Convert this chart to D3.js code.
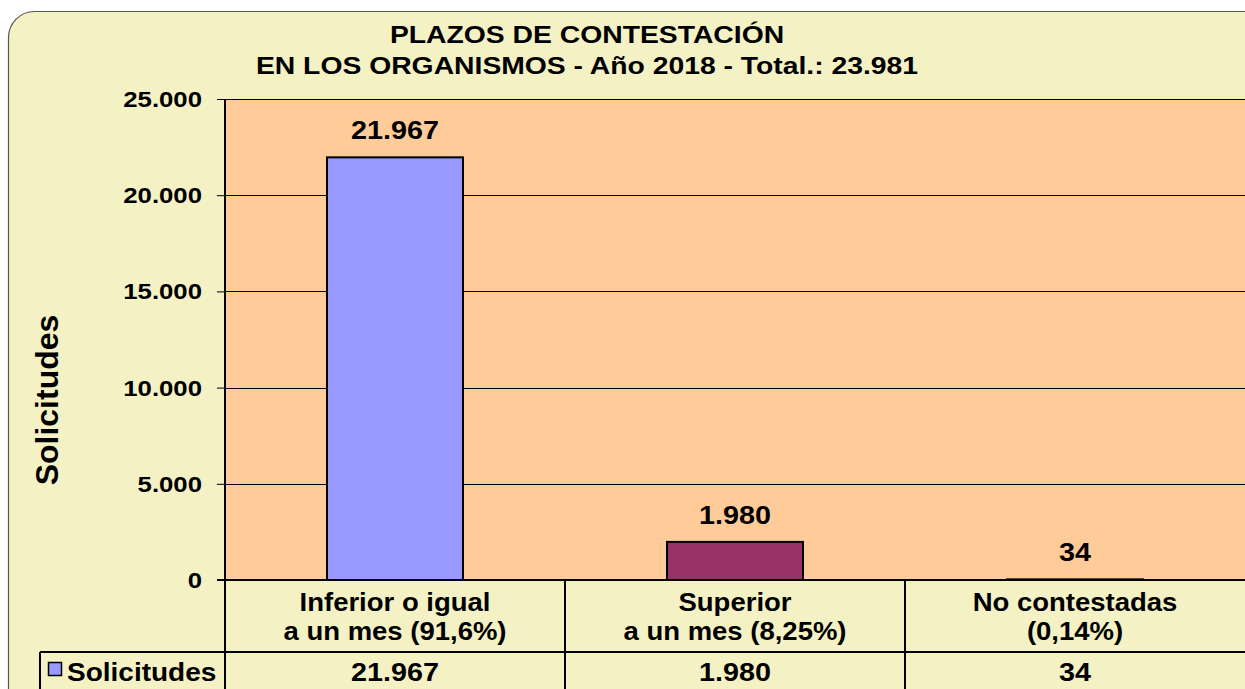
<!DOCTYPE html>
<html lang="es">
<head>
<meta charset="UTF-8">
<title>Plazos de contestación</title>
<script src="https://cdn.jsdelivr.net/npm/d3@7"></script>
<style>
  body { margin: 0; background: #fff; }
  svg text { font-family: "Liberation Sans", Arial, sans-serif; font-weight: bold; fill: #000; }
</style>
</head>
<body>
<script>
// data
var categories = ["Inferior o igual\na un mes (91,6%)", "Superior\na un mes (8,25%)", "No contestadas\n(0,14%)"];
var values = [21967, 1980, 34];
var barColors = ["#9999ff", "#993366", "#993366"];
var yTicks = [0, 5000, 10000, 15000, 20000, 25000];
var seriesName = "Solicitudes";
var titleLines = ["PLAZOS DE CONTESTACIÓN", "EN LOS ORGANISMOS - Año 2018 - Total.: 23.981"];

var W = 1245, H = 689;
var plot = {left: 225, right: 1245, top: 99, bottom: 580};
var rowLine = 652, legendLeft = 40;

var es = d3.formatLocale({decimal: ",", thousands: ".", grouping: [3], currency: ["", " €"]});
var fmt = es.format(",d");

var svg = d3.select("body").append("svg")
    .attr("width", W).attr("height", H);

// text in the original is a bit wide, so stretch it sideways
function label(g, x, y, size, sx, str, anchor) {
    return g.append("text")
        .attr("transform", "translate(" + x + "," + y + ") scale(" + sx + ",1)")
        .attr("text-anchor", anchor || "middle")
        .style("font-size", size + "px")
        .text(str);
}

// outer chart area (rounded, runs off the right / bottom edge)
svg.append("rect")
    .attr("x", 8.5).attr("y", 11.5)
    .attr("width", W + 20).attr("height", H + 20)
    .attr("rx", 26).attr("ry", 26)
    .attr("fill", "#f4f2c4")
    .attr("stroke", "#555").attr("stroke-width", 1.2);

// plot background
svg.append("rect")
    .attr("x", plot.left).attr("y", plot.top)
    .attr("width", plot.right - plot.left).attr("height", plot.bottom - plot.top)
    .attr("fill", "#ffcc99");

var x = d3.scaleBand().domain(d3.range(categories.length))
    .range([plot.left, plot.right]).paddingInner(0).paddingOuter(0);
var y = d3.scaleLinear().domain([0, 25000]).range([plot.bottom, plot.top]);

// gridlines
svg.append("g").selectAll("line")
    .data(yTicks.filter(function(d){ return d > 0; }))
    .enter().append("line")
    .attr("x1", plot.left).attr("x2", plot.right)
    .attr("y1", function(d){ return Math.round(y(d)) + 0.5; })
    .attr("y2", function(d){ return Math.round(y(d)) + 0.5; })
    .attr("stroke", "#000").attr("stroke-width", 1);

// y axis (ticks from d3, labels redrawn stretched)
var yAxis = svg.append("g")
    .attr("transform", "translate(" + plot.left + ",0)")
    .call(d3.axisLeft(y).tickValues(yTicks).tickFormat("").tickSize(8));
yAxis.select(".domain").remove();
yAxis.selectAll(".tick line").attr("stroke", "#000");
var yLab = svg.append("g");
yTicks.forEach(function(t){
    label(yLab, 202, y(t) + 8, 23, 1.12, fmt(t), "end");
});

// bars
var barW = 136;
svg.append("g").selectAll("rect")
    .data(values)
    .enter().append("rect")
    .attr("x", function(d, i){ return x(i) + x.bandwidth() / 2 - barW / 2; })
    .attr("y", function(d){ return y(d); })
    .attr("width", barW)
    .attr("height", function(d){ return Math.max(plot.bottom - y(d), 0.5); })
    .attr("fill", function(d, i){ return barColors[i]; })
    .attr("stroke", "#000").attr("stroke-width", 2);

// value labels above bars
var valG = svg.append("g");
values.forEach(function(v, i){
    label(valG, x(i) + x.bandwidth() / 2, y(v) - 18, 25, 1.15, fmt(v));
});

// data table lines
var tbl = svg.append("g").attr("stroke", "#000").attr("stroke-width", 2);
tbl.append("line").attr("x1", plot.left - 8).attr("x2", W).attr("y1", plot.bottom).attr("y2", plot.bottom);
tbl.append("line").attr("x1", legendLeft).attr("x2", W).attr("y1", rowLine).attr("y2", rowLine);
tbl.append("line").attr("x1", plot.left).attr("x2", plot.left).attr("y1", plot.top).attr("y2", H);
tbl.append("line").attr("x1", legendLeft).attr("x2", legendLeft).attr("y1", rowLine).attr("y2", H);
tbl.selectAll(".sep")
    .data(d3.range(1, categories.length))
    .enter().append("line")
    .attr("x1", function(i){ return x(i); }).attr("x2", function(i){ return x(i); })
    .attr("y1", plot.bottom).attr("y2", H);

// category labels
var catG = svg.append("g");
categories.forEach(function(c, i){
    c.split("\n").forEach(function(line, j){
        label(catG, x(i) + x.bandwidth() / 2, 611 + j * 29, 25, 1.1, line);
    });
});

// table values
var tblG = svg.append("g");
values.forEach(function(v, i){
    label(tblG, x(i) + x.bandwidth() / 2, 681, 25, 1.15, fmt(v));
});

// legend key in table
svg.append("rect")
    .attr("x", 48.5).attr("y", 662.5).attr("width", 13).attr("height", 13)
    .attr("fill", barColors[0]).attr("stroke", "#000").attr("stroke-width", 1.5);
label(svg, 67, 681, 25, 1.12, seriesName, "start");

// axis title
svg.append("text")
    .attr("transform", "translate(58,400) rotate(-90)")
    .attr("text-anchor", "middle")
    .style("font-size", "32px")
    .text(seriesName);

// chart title
var titG = svg.append("g");
titleLines.forEach(function(t, i){
    label(titG, 587, 43 + i * 31, 24, 1.18, t);
});
</script>
</body>
</html>
